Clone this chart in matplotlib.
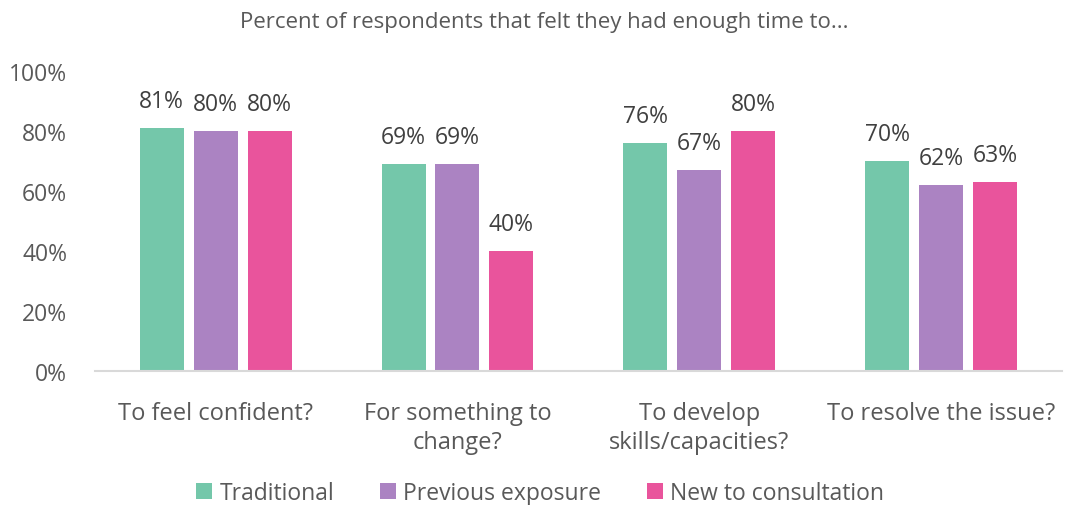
import matplotlib
matplotlib.use("Agg")
import matplotlib.pyplot as plt
import numpy as np
from matplotlib.ticker import FuncFormatter

categories = ["To feel confident?", "For something to\nchange?",
              "To develop\nskills/capacities?", "To resolve the issue?"]
series_names = ["Traditional", "Previous exposure", "New to consultation"]
traditional = [81, 69, 76, 70]
previous_exposure = [80, 69, 67, 62]
new_to_consultation = [80, 40, 80, 63]
title = "Percent of respondents that felt they had enough time to..."

colors = ["#74C7AA", "#AB83C2", "#E9549C"]
text_color = "#595959"
label_color = "#404040"

plt.rcParams["font.family"] = ["Open Sans", "DejaVu Sans"]

fig = plt.figure(figsize=(10.65, 5.06), dpi=100)
ax = fig.add_axes([0.089, 0.265, 0.908, 0.593])

x = np.arange(len(categories))
step = 0.223
width = 0.182
all_series = [traditional, previous_exposure, new_to_consultation]
for i, (vals, name, c) in enumerate(zip(all_series, series_names, colors)):
    pos = x + (i - 1) * step
    bars = ax.bar(pos, vals, width=width, color=c, label=name, zorder=2)
    for b, v in zip(bars, vals):
        ax.text(b.get_x() + b.get_width() / 2, v + 4.8, f"{v}%",
                ha="center", va="bottom", fontsize=16.5, color=label_color)

ax.set_xlim(-0.5, 3.5)
ax.set_ylim(0, 100)
ax.set_yticks(range(0, 101, 20))
ax.yaxis.set_major_formatter(FuncFormatter(lambda v, p: f"{int(v)}%"))
ax.set_xticks(x)
ax.set_xticklabels(categories, fontsize=17, color=text_color, linespacing=1.25)
ax.tick_params(axis="y", labelsize=16.5, labelcolor=text_color, length=0, pad=20)
ax.tick_params(axis="x", length=0, pad=22)
for s in ["top", "right", "left"]:
    ax.spines[s].set_visible(False)
ax.spines["bottom"].set_color("#D9D9D9")
ax.spines["bottom"].set_linewidth(1.5)
ax.spines["bottom"].set_bounds(-0.5, 3.5)

fig.text(0.511, 0.955, title, ha="center", va="center", fontsize=16, color=text_color)

leg = fig.legend(loc="center", bbox_to_anchor=(0.507, 0.024), ncol=3, frameon=False,
                 fontsize=16.5, handlelength=0.7, handleheight=0.7, handletextpad=0.3,
                 columnspacing=2.0, labelcolor=text_color)

fig.savefig("out.png", dpi=100)
